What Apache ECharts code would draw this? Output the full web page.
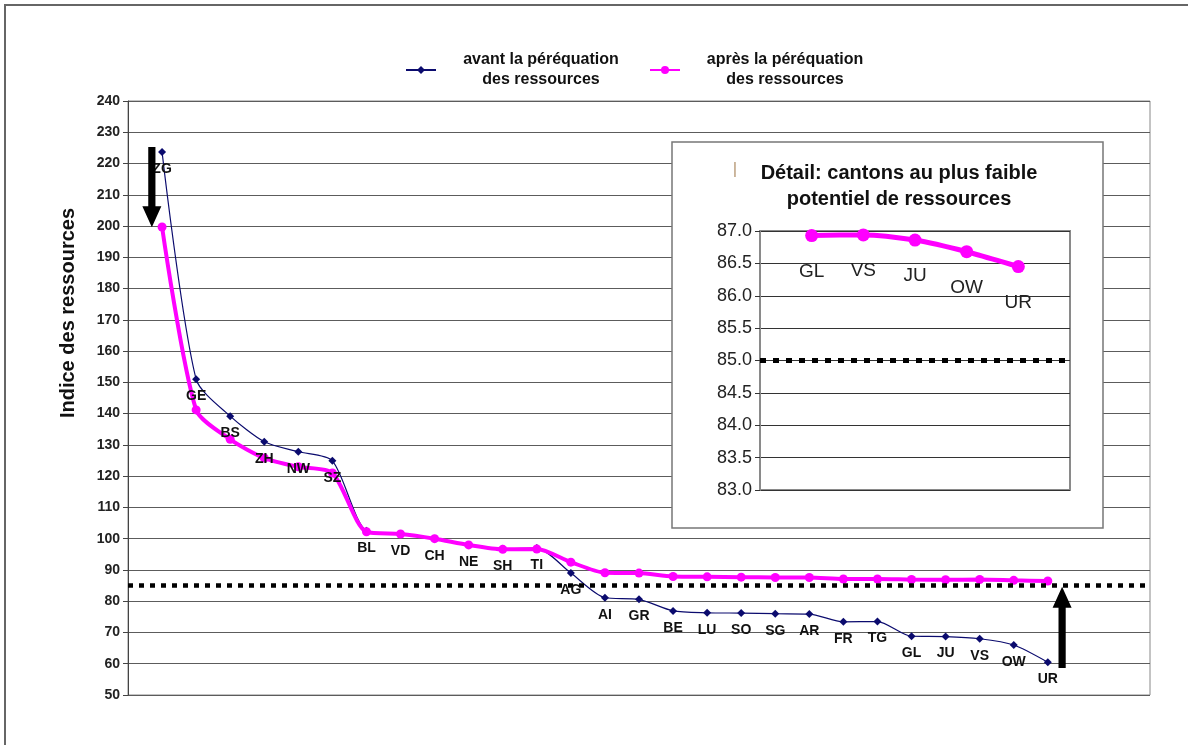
<!DOCTYPE html>
<html>
<head>
<meta charset="utf-8">
<script src="https://cdn.jsdelivr.net/npm/echarts@6/dist/echarts.min.js"></script>
<style>
  html, body { margin: 0; padding: 0; background: #fff; }
  #chart { width: 1188px; height: 745px; }
</style>
</head>
<body>
<div id="chart"></div>
<script>
// Cantons ordered by resource index (before equalisation)
const cantons = ['ZG','GE','BS','ZH','NW','SZ','BL','VD','CH','NE','SH','TI','AG','AI','GR','BE','LU','SO','SG','AR','FR','TG','GL','JU','VS','OW','UR'];

// Resource index before equalisation
const avant = [223.7, 151.0, 139.2, 131.0, 127.8, 124.9, 102.5, 101.5, 100.0, 98.0, 96.8, 97.0, 89.0, 81.1, 80.6, 76.9, 76.3, 76.2, 76.0, 75.9, 73.4, 73.5, 68.8, 68.7, 68.0, 66.0, 60.5];

// Resource index after equalisation
const apres = [199.7, 141.2, 131.8, 125.8, 123.0, 121.0, 102.2, 101.5, 100.0, 98.0, 96.6, 96.7, 92.5, 89.1, 89.0, 87.9, 87.8, 87.7, 87.6, 87.6, 87.1, 87.1, 86.93, 86.86, 86.94, 86.68, 86.45];

// Cantons shown in the detail panel (weakest after equalisation)
const detailCantons = ['GL','VS','JU','OW','UR'];

// Minimum target level (85 % of the Swiss average)
const seuil = 85;

const legendNames = {
  avant: 'avant la péréquation des ressources',
  apres: 'après la péréquation des ressources'
};
const legendLines = {
  [legendNames.avant]: ['avant la péréquation', 'des ressources'],
  [legendNames.apres]: ['après la péréquation', 'des ressources']
};

const FONT = '"Liberation Sans", Arial, Helvetica, sans-serif';
const NAVY = '#0b0b6e';
const MAGENTA = '#ff00ff';

const mainData = (vals) => vals.map((v, i) => [i + 1, v]);
const detailData = detailCantons.map((c, i) => [i + 1, apres[cantons.indexOf(c)]]);

const chart = echarts.init(document.getElementById('chart'), null, { renderer: 'canvas' });

const option = {
  animation: false,
  backgroundColor: '#fff',
  textStyle: { fontFamily: FONT },
  title: {
    text: 'Détail: cantons au plus faible\npotentiel de ressources',
    left: 894,
    top: 155,
    textAlign: 'center',
    textStyle: { fontFamily: FONT, fontSize: 20, fontWeight: 'bold', color: '#111', lineHeight: 26 },
    z: 8
  },
  legend: {
    top: 47,
    left: 400,
    itemGap: 8,
    itemWidth: 30,
    itemHeight: 10,
    data: [legendNames.avant, legendNames.apres],
    formatter: (name) => '{t|' + legendLines[name][0] + '}\n{t|' + legendLines[name][1] + '}',
    textStyle: {
      rich: {
        t: { width: 200, align: 'center', fontFamily: FONT, fontSize: 16, fontWeight: 'bold', lineHeight: 20, color: '#111' }
      }
    }
  },
  grid: [
    { left: 128, right: 38, top: 101, bottom: 50, show: true, borderColor: '#888', borderWidth: 1, z: 0 },
    { left: 760, right: 118, top: 231, bottom: 255, show: true, borderColor: '#8a8a8a', borderWidth: 2, backgroundColor: 'transparent', z: 3 }
  ],
  xAxis: [
    { gridIndex: 0, type: 'value', min: 0, max: 30, show: false },
    { gridIndex: 1, type: 'value', min: 0, max: 6, show: false }
  ],
  yAxis: [
    {
      gridIndex: 0, type: 'value', min: 50, max: 240, interval: 10,
      axisLine: { show: true, lineStyle: { color: '#444', width: 1 } },
      axisTick: { show: true, length: 5, lineStyle: { color: '#444' } },
      axisLabel: { fontFamily: FONT, fontSize: 14, fontWeight: 'bold', color: '#222', margin: 8 },
      splitLine: { show: true, lineStyle: { color: '#5c5c5c', width: 1 } }
    },
    {
      gridIndex: 1, type: 'value', min: 83, max: 87, interval: 0.5, z: 3,
      axisLine: { show: true, lineStyle: { color: '#8a8a8a', width: 2 } },
      axisTick: { show: true, length: 5, lineStyle: { color: '#333' } },
      axisLabel: { fontFamily: FONT, fontSize: 18, color: '#222', margin: 8, formatter: (v) => v.toFixed(1) },
      splitLine: { show: true, lineStyle: { color: '#333', width: 1 } }
    }
  ],
  series: [
    {
      name: legendNames.avant,
      type: 'line',
      xAxisIndex: 0, yAxisIndex: 0,
      data: mainData(avant),
      smooth: 0.25,
      symbol: 'diamond',
      symbolSize: 8,
      lineStyle: { color: NAVY, width: 1.2 },
      itemStyle: { color: NAVY },
      z: 2
    },
    {
      name: legendNames.apres,
      type: 'line',
      xAxisIndex: 0, yAxisIndex: 0,
      data: mainData(apres),
      smooth: 0.25,
      symbol: 'circle',
      symbolSize: 9,
      lineStyle: { color: MAGENTA, width: 4 },
      itemStyle: { color: MAGENTA },
      z: 3,
      markLine: {
        silent: true,
        symbol: 'none',
        label: { show: false },
        lineStyle: { color: '#000', width: 4.5, type: [5, 6] },
        data: [{ yAxis: seuil }]
      }
    },
    {
      // canton names under the "before" points, kept above both lines
      name: 'cantons',
      type: 'scatter',
      xAxisIndex: 0, yAxisIndex: 0,
      data: mainData(avant),
      symbolSize: 8,
      itemStyle: { color: 'rgba(0,0,0,0)' },
      silent: true,
      z: 5,
      label: {
        show: true,
        position: 'bottom',
        distance: 6,
        formatter: (p) => cantons[p.dataIndex],
        fontFamily: FONT,
        fontSize: 14,
        fontWeight: 'bold',
        color: '#111',
        opacity: 1
      }
    },
    {
      name: 'detail',
      type: 'line',
      xAxisIndex: 1, yAxisIndex: 1,
      data: detailData,
      smooth: 0.25,
      symbol: 'circle',
      symbolSize: 13,
      lineStyle: { color: MAGENTA, width: 5 },
      itemStyle: { color: MAGENTA },
      z: 6,
      label: {
        show: true,
        position: 'bottom',
        distance: 20,
        formatter: (p) => detailCantons[p.dataIndex],
        fontFamily: FONT,
        fontSize: 19,
        color: '#222'
      },
      markLine: {
        silent: true,
        symbol: 'none',
        label: { show: false },
        lineStyle: { color: '#000', width: 5, type: [6, 7] },
        data: [{ yAxis: seuil }]
      }
    }
  ]
};

chart.setOption(option);

// Arrows showing the shift of the extreme cantons (axis coordinates)
const arrows = [
  { x: 0.7, from: 225.3, to: 199.6 },
  { x: 27.42, from: 58.6, to: 84.6 }
];

function arrowShape(a) {
  const p0 = chart.convertToPixel({ gridIndex: 0 }, [a.x, a.from]);
  const p1 = chart.convertToPixel({ gridIndex: 0 }, [a.x, a.to]);
  const dir = p1[1] > p0[1] ? 1 : -1;
  const x = p0[0];
  const shaft = 3.6, head = 9.5, headLen = 21;
  const base = p1[1] - dir * headLen;
  return {
    type: 'polygon',
    z: 7,
    silent: true,
    shape: {
      points: [
        [x - shaft, p0[1]], [x + shaft, p0[1]], [x + shaft, base], [x + head, base],
        [x, p1[1]], [x - head, base], [x - shaft, base]
      ]
    },
    style: { fill: '#000' }
  };
}

chart.setOption({
  graphic: [
    {
      type: 'rect', z: 0, silent: true,
      shape: { x: 5, y: 5, width: 1200, height: 760 },
      style: { fill: 'none', stroke: '#666', lineWidth: 2 }
    },
    {
      type: 'rect', z: 1, silent: true,
      shape: { x: 672, y: 142, width: 431, height: 386 },
      style: { fill: '#fff', stroke: '#777', lineWidth: 1.5 }
    },
    {
      type: 'text', z: 8, silent: true, x: 735, y: 169,
      style: { text: '|', fontFamily: FONT, fontSize: 17, fill: '#b89a78', align: 'center', verticalAlign: 'middle' }
    },
    {
      type: 'text', z: 8, silent: true, x: 68, y: 313, rotation: Math.PI / 2,
      style: { text: 'Indice des ressources', fontFamily: FONT, fontSize: 20, fontWeight: 'bold', fill: '#111', align: 'center', verticalAlign: 'middle' }
    },
    arrowShape(arrows[0]),
    arrowShape(arrows[1])
  ]
});
</script>
</body>
</html>
